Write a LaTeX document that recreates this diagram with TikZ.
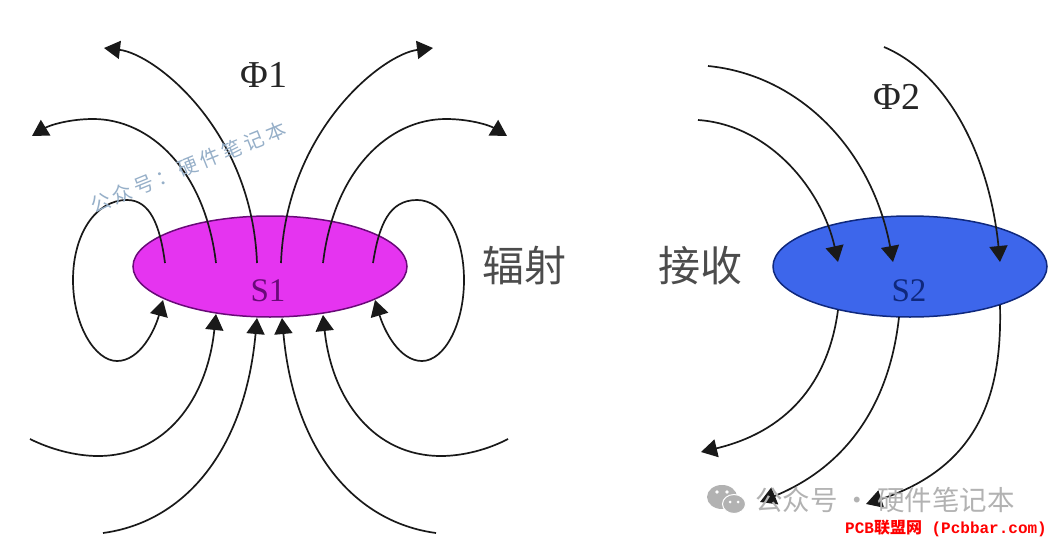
\documentclass[tikz,border=0pt]{standalone}
\usepackage{fontspec}
\usepackage{xcolor}
\usepackage{tikz}
\usetikzlibrary{shapes.geometric,arrows.meta}
\setmainfont{Liberation Serif}
\setmonofont{Liberation Mono}
\newfontfamily\cjk{Noto Sans CJK SC}
\newfontfamily\cjkmark[LetterSpace=18]{Noto Sans CJK SC}
\definecolor{magentafill}{RGB}{229,52,240}
\definecolor{magentaline}{RGB}{105,10,120}
\definecolor{bluefill}{RGB}{61,102,235}
\definecolor{blueline}{RGB}{15,40,125}
\definecolor{markblue}{RGB}{150,175,200}
\definecolor{markgray}{RGB}{178,178,178}
\begin{document}
\begin{tikzpicture}[x=1pt, y=-1pt,
    field/.style={line width=1.7pt, draw=black!90},
    fieldarrow/.style={field, -{Triangle[length=16pt,width=18pt]}},
    emitter/.style={draw, ellipse, line width=1.5pt, minimum width=274pt, minimum height=101pt, inner sep=0pt},
    label/.style={inner sep=0pt, text=black!85, font=\fontsize{38}{38}\selectfont},
    hanzi/.style={inner sep=0pt, text=black!70, font=\cjk\fontsize{42}{42}\selectfont}]
    \useasboundingbox (0,0) rectangle (1049,543);

    \node (s1) [emitter, fill=magentafill, draw=magentaline] at (270,266.5) {};
    \node (s2) [emitter, fill=bluefill, draw=blueline] at (910,266.5) {};
    \node (s1text) [inner sep=0pt, text=magentaline, font=\fontsize{33}{33}\selectfont] at (268,291) {S1};
    \node (s2text) [inner sep=0pt, text=blueline, font=\fontsize{33}{33}\selectfont] at (909,291) {S2};

    \node (phi1) [label] at (264,75) {Φ1};
    \node (phi2) [label] at (897,97) {Φ2};
    \node (emit) [hanzi] at (524,266) {辐射};
    \node (recv) [hanzi] at (700,266) {接收};

    \coordinate (u1) at (165,263);
    \coordinate (u2) at (216,263);
    \coordinate (u3) at (257,263);
    \coordinate (u4) at (281,263);
    \coordinate (u5) at (323,263);
    \coordinate (u6) at (373,263);
    \coordinate (v2) at (32,136);
    \coordinate (v3) at (104,48);
    \coordinate (v4) at (433,48);
    \coordinate (v5) at (507,136);
    \coordinate (d1) at (163,300);
    \coordinate (d2) at (216,314);
    \coordinate (d3) at (257,318);
    \coordinate (d4) at (282,318);
    \coordinate (d5) at (323,315);
    \coordinate (d6) at (375,300);
    \coordinate (w2) at (30,439);
    \coordinate (w3) at (103,533);
    \coordinate (w4) at (436,533);
    \coordinate (w5) at (508,439);

    \draw[fieldarrow] (u1) .. controls (160,225) and (150,200) .. (127,200) .. controls (95,200) and (73,235) .. (73,280) .. controls (73,325) and (95,361) .. (117,361) .. controls (140,361) and (155,330) .. (d1);
    \draw[fieldarrow] (u2) .. controls (205,170) and (150,119) .. (93,119) .. controls (70,119) and (50,125) .. (v2);
    \draw[fieldarrow] (u3) .. controls (252,130) and (155,54) .. (v3);
    \draw[fieldarrow] (u4) .. controls (286,130) and (383,54) .. (v4);
    \draw[fieldarrow] (u5) .. controls (334,170) and (389,119) .. (446,119) .. controls (469,119) and (489,125) .. (v5);
    \draw[fieldarrow] (u6) .. controls (379,225) and (389,200) .. (417,200) .. controls (444,200) and (464,235) .. (464,280) .. controls (464,325) and (444,361) .. (422,361) .. controls (399,361) and (384,330) .. (d6);

    \draw[fieldarrow] (w2) .. controls (50,449) and (75,456) .. (98,456) .. controls (165,456) and (207,400) .. (d2);
    \draw[fieldarrow] (w3) .. controls (185,522) and (245,450) .. (d3);
    \draw[fieldarrow] (w4) .. controls (354,522) and (294,450) .. (d4);
    \draw[fieldarrow] (w5) .. controls (489,449) and (464,456) .. (441,456) .. controls (374,456) and (332,400) .. (d5);

    \coordinate (a1) at (698,120);
    \coordinate (a2) at (708,66);
    \coordinate (a3) at (884,47);
    \coordinate (b1) at (838,262);
    \coordinate (b2) at (893,262);
    \coordinate (b3) at (1000,262);
    \coordinate (c1) at (838,310);
    \coordinate (c2) at (899,317);
    \coordinate (c3) at (1000,305);
    \coordinate (e1) at (701,452);
    \coordinate (e2) at (760,502);
    \coordinate (e3) at (866,504);

    \draw[fieldarrow] (a1) .. controls (770,125) and (822,190) .. (b1);
    \draw[fieldarrow] (a2) .. controls (800,75) and (872,150) .. (b2);
    \draw[fieldarrow] (a3) .. controls (950,75) and (990,160) .. (b3);
    \draw[fieldarrow] (c1) .. controls (828,385) and (785,432) .. (e1);
    \draw[fieldarrow] (c2) .. controls (890,400) and (850,465) .. (e2);
    \draw[fieldarrow] (c3) .. controls (1002,385) and (985,465) .. (e3);

    \node (markslant) [inner sep=0pt, rotate=22, text=markblue, font=\cjkmark\fontsize{20}{20}\selectfont] at (188,167) {公众号：硬件笔记本};

    \fill[markgray] (722,497) ellipse [x radius=15, y radius=12];
    \fill[markgray, draw=white, line width=1pt] (734,504) ellipse [x radius=11.5, y radius=9.5];
    \fill[white] (717,492) circle (1.8) (727,492) circle (1.8) (730,502) circle (1.5) (738,502) circle (1.5);
    \node (markflat) [inner sep=0pt, text=markgray, font=\cjk\fontsize{27.5}{28}\selectfont] at (885,500) {公众号 · 硬件笔记本};
    \node (source) [inner sep=0pt, text=red, font=\bfseries\fontsize{16}{16}\selectfont] at (946,528) {\ttfamily PCB{\cjk 联盟网} (Pcbbar.com)};
\end{tikzpicture}
\end{document}
